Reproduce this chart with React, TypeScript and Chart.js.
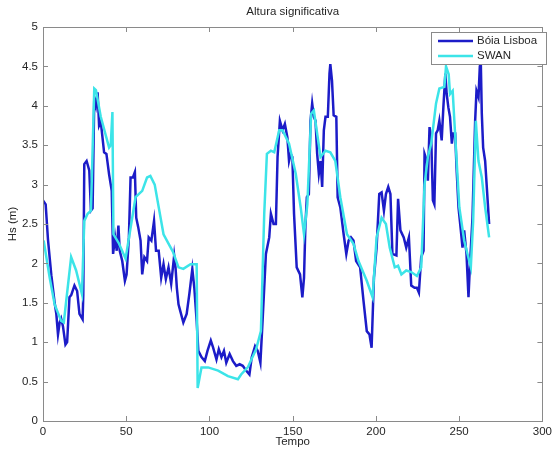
import React, { useEffect, useRef } from "react";
import { Chart, registerables } from "chart.js";

Chart.register(...registerables);

const titleText = "Altura significativa";
const xLabel = "Tempo";
const yLabel = "Hs (m)";
const seriesNames = ["Bóia Lisboa", "SWAN"];

const boiaX = [0, 1.6, 3, 5, 7, 8, 9, 10, 10.9, 12, 13.5, 14.5, 15.9, 17, 18.9, 20.5, 21.9, 23.8, 24.2, 24.8, 26.2, 27.8, 28.8, 29.8, 30.8, 31.8, 32.8, 33.7, 34.7, 36.7, 38.1, 39.7, 41.3, 42.1, 43.3, 44.3, 45.3, 46.1, 47.6, 49.2, 50.2, 51.6, 52.6, 54, 55.2, 56, 57.2, 58.6, 59.6, 60.9, 62.5, 63.5, 65.1, 66.7, 67.9, 69.5, 71, 72.4, 73.8, 75.4, 77, 78.8, 79.6, 80.4, 81.4, 82.4, 84.3, 86.3, 87.9, 89.7, 90.9, 92.3, 93.3, 95.2, 97.2, 98.8, 100.8, 102.2, 104.2, 105.6, 107.2, 108.7, 110.1, 112.1, 114.1, 116.1, 118.1, 120, 122, 124, 125.4, 127.4, 129, 130.6, 131.9, 133.9, 135.9, 136.9, 138.5, 139.9, 140.9, 142.3, 143.9, 145.3, 146.8, 147.8, 148.8, 149.8, 150.8, 152.4, 154.4, 155.8, 156.8, 157.6, 158.5, 159.7, 160.7, 161.7, 162.7, 163.7, 164.7, 165.7, 166.7, 167.7, 168.7, 169.7, 171.1, 172.1, 172.6, 173.6, 174.6, 176.2, 177, 178.6, 180.6, 182.2, 183.6, 185, 186.5, 188.1, 190.5, 192.5, 194.5, 196.1, 197.4, 198.8, 200.4, 202, 203.4, 204.8, 206, 207.4, 208.7, 209.9, 212.3, 213.3, 214.7, 216.7, 218.2, 219.8, 221.2, 223.2, 224.6, 225.8, 227.2, 228.6, 229.2, 230.6, 231.2, 232.2, 233.2, 234.2, 235.1, 236.1, 237.1, 238.1, 239.5, 240.5, 241.7, 242.5, 243.5, 244.5, 245.6, 246.4, 247.6, 248.4, 249.6, 251, 252, 253, 254.4, 255.6, 256.4, 258, 259.6, 260.4, 261.6, 262.4, 263, 263.6, 264.4, 265.6, 268];
const boiaY = [2.8, 2.75, 2.3, 1.85, 1.5, 1.36, 1.1, 1.25, 1.3, 1.2, 0.97, 1.0, 1.57, 1.6, 1.72, 1.65, 1.36, 1.29, 1.6, 3.26, 3.3, 3.18, 2.67, 2.7, 4.1, 4.0, 4.17, 3.75, 3.8, 3.41, 3.39, 3.13, 2.92, 2.12, 2.33, 2.16, 2.48, 2.16, 2.03, 1.78, 1.86, 2.33, 3.09, 3.09, 3.16, 2.58, 2.46, 2.29, 1.86, 2.08, 2.03, 2.33, 2.29, 2.54, 2.16, 2.16, 1.82, 1.99, 1.8, 1.95, 1.74, 2.1, 1.95, 1.69, 1.48, 1.4, 1.25, 1.36, 1.61, 1.93, 1.69, 1.27, 0.89, 0.81, 0.76, 0.89, 1.02, 0.93, 0.78, 0.91, 0.81, 0.89, 0.74, 0.85, 0.76, 0.7, 0.72, 0.7, 0.64, 0.59, 0.81, 0.95, 0.89, 0.74, 1.27, 2.12, 2.33, 2.63, 2.5, 2.5, 3.35, 3.81, 3.69, 3.77, 3.6, 3.3, 3.39, 3.35, 2.63, 1.95, 1.86, 1.57, 1.82, 2.46, 2.84, 2.88, 3.81, 4.03, 3.86, 3.81, 3.39, 3.14, 3.3, 2.97, 3.69, 3.86, 3.86, 4.41, 4.53, 4.32, 3.88, 3.86, 2.84, 2.71, 2.37, 2.12, 2.29, 2.33, 2.29, 2.03, 1.95, 1.53, 1.14, 1.1, 0.93, 1.82, 2.2, 2.88, 2.9, 2.67, 2.88, 2.97, 2.88, 2.12, 2.1, 2.82, 2.42, 2.33, 2.2, 2.33, 1.72, 1.69, 1.69, 1.63, 2.08, 2.16, 3.39, 3.3, 3.05, 3.73, 3.6, 2.8, 2.75, 3.65, 3.69, 3.81, 3.56, 3.98, 4.41, 4.15, 3.98, 3.86, 3.52, 3.65, 3.65, 3.22, 2.71, 2.42, 2.2, 2.42, 2.12, 1.57, 1.95, 2.58, 3.81, 4.19, 4.11, 4.5, 4.55, 3.9, 3.47, 3.3, 2.5];

const swanX = [0.4, 4, 7, 10.9, 12.5, 16.9, 19.9, 23.4, 24.8, 26.8, 28.8, 30.8, 31.8, 34.7, 39.7, 40.7, 41.7, 42.3, 45.7, 49.6, 55.6, 59.6, 62.5, 64.5, 67.1, 72.4, 75.4, 78, 81.4, 84.3, 88.6, 92.3, 92.9, 95.2, 99.2, 105.2, 111.1, 117.1, 119, 123, 128, 130.9, 132.9, 134.5, 136.9, 138.9, 141.9, 143.9, 147.8, 151.8, 154.8, 156.8, 158.8, 161.1, 162.7, 166.7, 169.7, 172.6, 175.6, 178.6, 182.6, 186.5, 189.5, 194.5, 198, 200.4, 203.4, 206, 208.3, 211.3, 213.3, 215.3, 218.2, 221.2, 224.6, 227.2, 229.2, 231.2, 233.2, 236.1, 238.1, 241.1, 242.1, 243.7, 244.5, 246.1, 247.1, 250.1, 253, 255, 257, 258.4, 260, 261.6, 263.6, 265.6, 268];
const swanY = [2.29, 1.82, 1.48, 1.27, 1.25, 2.08, 1.91, 1.61, 2.54, 2.63, 2.67, 4.22, 4.2, 3.86, 3.47, 3.5, 3.92, 2.37, 2.25, 2.06, 2.84, 2.92, 3.09, 3.11, 3.0, 2.37, 2.25, 2.15, 1.95, 1.93, 1.99, 1.99, 0.42, 0.68, 0.68, 0.64, 0.57, 0.53, 0.59, 0.68, 0.91, 1.14, 2.63, 3.39, 3.43, 3.41, 3.69, 3.69, 3.52, 3.14, 2.71, 2.37, 2.75, 3.9, 3.94, 3.35, 3.43, 3.41, 3.3, 2.84, 2.37, 2.25, 2.03, 1.78, 1.57, 2.33, 2.58, 2.5, 2.2, 1.95, 1.97, 1.86, 1.91, 1.89, 1.84, 1.95, 3.0, 3.35, 3.52, 4.03, 4.22, 4.24, 4.5, 4.4, 4.15, 4.19, 3.81, 2.71, 2.29, 2.12, 1.95, 2.54, 3.81, 3.3, 3.09, 2.71, 2.33];

const xTicks = [0, 50, 100, 150, 200, 250, 300];
const yTicks = [0, 0.5, 1, 1.5, 2, 2.5, 3, 3.5, 4, 4.5, 5];

const FONT = "'Liberation Sans', Arial, sans-serif";
const TEXT = "#262626";
const AXIS = "#8a8a8a";
const BLUE = "#1c1cc8";
const CYAN = "#3ce4e8";

const decorPlugin = {
  id: "decor",
  afterDraw(chart: any) {
    const { ctx, chartArea, scales } = chart;
    const { left, right, top, bottom } = chartArea;
    const xs = scales.x;
    const ys = scales.y;
    ctx.save();
    ctx.strokeStyle = AXIS;
    ctx.lineWidth = 1;
    ctx.strokeRect(Math.round(left) + 0.5, Math.round(top) + 0.5, Math.round(right - left), Math.round(bottom - top));
    const tl = 5;
    ctx.beginPath();
    xTicks.forEach((v) => {
      const px = Math.round(xs.getPixelForValue(v)) + 0.5;
      ctx.moveTo(px, bottom);
      ctx.lineTo(px, bottom - tl);
      ctx.moveTo(px, top);
      ctx.lineTo(px, top + tl);
    });
    yTicks.forEach((v) => {
      const py = Math.round(ys.getPixelForValue(v)) + 0.5;
      ctx.moveTo(left, py);
      ctx.lineTo(left + tl, py);
      ctx.moveTo(right, py);
      ctx.lineTo(right - tl, py);
    });
    ctx.stroke();

    ctx.fillStyle = TEXT;
    ctx.font = `11.5px ${FONT}`;
    ctx.textAlign = "center";
    ctx.textBaseline = "middle";
    ctx.fillText(titleText, (left + right) / 2, 12);
    ctx.fillText(xLabel, (left + right) / 2, 442);
    ctx.save();
    ctx.translate(13, (top + bottom) / 2);
    ctx.rotate(-Math.PI / 2);
    ctx.fillText(yLabel, 0, 0);
    ctx.restore();

    // legend
    const lx = 431, ly = 32, lw = 115, lh = 32;
    ctx.fillStyle = "#ffffff";
    ctx.fillRect(lx, ly, lw, lh);
    ctx.strokeStyle = AXIS;
    ctx.strokeRect(lx + 0.5, ly + 0.5, lw, lh);
    const colors = [BLUE, CYAN];
    seriesNames.forEach((name, i) => {
      const yy = ly + 9 + i * 15;
      ctx.strokeStyle = colors[i];
      ctx.lineWidth = 2.5;
      ctx.beginPath();
      ctx.moveTo(438, yy);
      ctx.lineTo(473, yy);
      ctx.stroke();
      ctx.fillStyle = TEXT;
      ctx.textAlign = "left";
      ctx.fillText(name, 477, yy);
    });
    ctx.restore();
  },
};

export default function App() {
  const ref = useRef<HTMLCanvasElement | null>(null);
  useEffect(() => {
    if (!ref.current) return;
    const boia = boiaX.map((x, i) => ({ x, y: boiaY[i] }));
    const swan = swanX.map((x, i) => ({ x, y: swanY[i] }));
    const chart = new Chart(ref.current, {
      type: "line",
      data: {
        datasets: [
          { label: seriesNames[0], data: boia, borderColor: BLUE, borderWidth: 2.5, pointRadius: 0, tension: 0, order: 1 },
          { label: seriesNames[1], data: swan, borderColor: CYAN, borderWidth: 2.5, pointRadius: 0, tension: 0, order: 0 },
        ],
      },
      options: {
        animation: false,
        responsive: false,
        maintainAspectRatio: false,
        layout: { padding: { top: 27, right: 9, left: 0, bottom: 0 } },
        plugins: { legend: { display: false }, tooltip: { enabled: false }, title: { display: false } },
        scales: {
          x: {
            type: "linear",
            min: 0,
            max: 300,
            afterBuildTicks: (s: any) => { s.ticks = xTicks.map((v) => ({ value: v })); },
            afterFit: (s: any) => { s.height = 32; },
            ticks: { color: TEXT, font: { family: FONT, size: 11.5 }, padding: 4, maxRotation: 0, autoSkip: false, callback: (v: any) => String(v) },
            grid: { drawOnChartArea: false, drawTicks: false },
            border: { display: false },
          },
          y: {
            type: "linear",
            min: 0,
            max: 5,
            afterBuildTicks: (s: any) => { s.ticks = yTicks.map((v) => ({ value: v })); },
            afterFit: (s: any) => { s.width = 43; },
            ticks: { color: TEXT, font: { family: FONT, size: 11.5 }, padding: 5, autoSkip: false, callback: (v: any) => String(v) },
            grid: { drawOnChartArea: false, drawTicks: false },
            border: { display: false },
          },
        },
      },
      plugins: [decorPlugin],
    });
    return () => chart.destroy();
  }, []);
  return (
    <div style={{ position: "fixed", left: 0, top: 0, width: 556, height: 453, background: "#fff" }}>
      <canvas ref={ref} width={556} height={453} style={{ width: 556, height: 453, display: "block" }} />
    </div>
  );
}
